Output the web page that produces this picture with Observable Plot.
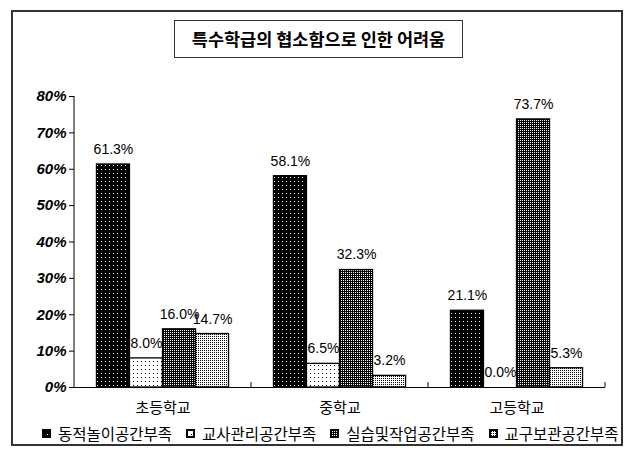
<!DOCTYPE html>
<html>
<head>
<meta charset="utf-8">
<script src="https://cdn.jsdelivr.net/npm/d3@7"></script>
<script src="https://cdn.jsdelivr.net/npm/@observablehq/plot@0.6"></script>
<style>
  html, body { margin: 0; padding: 0; background: #fff; }
  #wrap { position: relative; width: 630px; height: 462px; overflow: hidden; font-family: "Noto Sans CJK KR", sans-serif; }
  #border { position: absolute; left: 11px; top: 10px; width: 612px; height: 436px; border: 2px solid #333; box-sizing: border-box; }
  #chart { position: absolute; left: 0; top: 0; }
  #title { position: absolute; left: 174px; top: 20px; width: 289px; height: 38px; border: 1px solid #333; box-sizing: border-box;
           font: bold 17.5px "Noto Sans CJK KR", sans-serif; text-align: center; line-height: 36px; color: #000; white-space: nowrap; }
  #legend { position: absolute; left: 42px; top: 423px; display: flex; gap: 14px; font: 15.5px "Noto Sans CJK KR", sans-serif; color: #000; line-height: 20px; white-space: nowrap; }
  #legend .item { display: flex; align-items: center; gap: 7px; }
  #legend svg { display: block; }
</style>
</head>
<body>
<div id="wrap">
  <div id="border"></div>
  <div id="chart"></div>
  <div id="title"></div>
  <div id="legend"></div>
</div>
<script>
const chartTitle = "특수학급의 협소함으로 인한 어려움";
const categories = ["초등학교", "중학교", "고등학교"];
const series = ["동적놀이공간부족", "교사관리공간부족", "실습및작업공간부족", "교구보관공간부족"];
const elementaryValues = [61.3, 8.0, 16.0, 14.7];
const middleValues = [58.1, 6.5, 32.3, 3.2];
const highValues = [21.1, 0.0, 73.7, 5.3];
const yTicks = [0, 10, 20, 30, 40, 50, 60, 70, 80];

const valuesByCategory = [elementaryValues, middleValues, highValues];
const rows = categories.flatMap((c, i) => series.map((s, j) => ({category: c, series: s, value: valuesByCategory[i][j]})));
const patternIds = series.map((_, i) => "pat" + i);

const plot = Plot.plot({
  width: 630,
  height: 462,
  marginLeft: 74,
  marginRight: 25,
  marginTop: 96,
  marginBottom: 75,
  style: {background: "transparent", color: "#000", fontFamily: "'Liberation Sans', Arial, sans-serif"},
  fx: {domain: categories, padding: 0, label: null},
  x: {domain: series, paddingInner: 0, paddingOuter: 0.68, round: false, axis: null},
  y: {domain: [0, 80]},
  color: {type: "ordinal", domain: series, range: patternIds.map(id => `url(#${id})`)},
  marks: [
    Plot.barY(rows, {fx: "category", x: "series", y: "value", fill: "series", stroke: "#000", strokeWidth: 1.3}),
    Plot.ruleY([0], {stroke: "#000", strokeWidth: 1}),
    Plot.text(rows, {fx: "category", x: "series", y: "value", text: d => d.value.toFixed(1) + "%", dy: -15, fontSize: 14, fill: "#000"}),
    Plot.axisY({ticks: yTicks, tickFormat: d => d + "%", tickSize: 5, tickPadding: 3, fontSize: 15, fontWeight: "bold", fontStyle: "italic", label: null}),
    Plot.axisFx({anchor: "bottom", tickSize: 0, tickPadding: 15, fontSize: 15, label: null, fontFamily: "'Noto Sans CJK KR', sans-serif"})
  ]
});

document.getElementById("chart").appendChild(plot);

// patterns
const svg = d3.select(plot.tagName.toLowerCase() === "svg" ? plot : plot.querySelector("svg"));
const defs = svg.insert("defs", ":first-child");
const patSpecs = [
  {size: 4, bg: "#000", dot: "#fff"},
  {size: 4, bg: "#fff", dot: "#000"},
  {size: 2, bg: "#000", dot: "#fff"},
  {size: 2, bg: "#fff", dot: "#000"}
];
patSpecs.forEach((p, i) => {
  const pat = defs.append("pattern").attr("id", patternIds[i]).attr("patternUnits", "userSpaceOnUse")
    .attr("width", p.size).attr("height", p.size);
  pat.append("rect").attr("width", p.size).attr("height", p.size).attr("fill", p.bg);
  pat.append("rect").attr("x", p.size === 4 ? 1 : 0).attr("y", p.size === 4 ? 1 : 0).attr("width", 1).attr("height", 1).attr("fill", p.dot);
});

// y axis line and group separator ticks from the plot's scales
const fxS = plot.scale("fx");
const yS = plot.scale("y");
const x0 = fxS.apply(categories[0]);
svg.append("line").attr("x1", x0).attr("x2", x0).attr("y1", yS.apply(0)).attr("y2", yS.apply(80))
  .attr("stroke", "#000").attr("stroke-width", 1);
categories.forEach(c => {
  const xe = fxS.apply(c) + fxS.bandwidth;
  svg.append("line").attr("x1", xe).attr("x2", xe).attr("y1", yS.apply(0)).attr("y2", yS.apply(0) - 5)
    .attr("stroke", "#000").attr("stroke-width", 1);
});

document.getElementById("title").textContent = chartTitle;

const legend = d3.select("#legend");
series.forEach((s, i) => {
  const item = legend.append("div").attr("class", "item");
  const sw = item.append("svg").attr("width", 9).attr("height", 9);
  sw.append("rect").attr("x", 1).attr("y", 1).attr("width", 7).attr("height", 7)
    .attr("fill", `url(#${patternIds[i]})`).attr("stroke", "#000").attr("stroke-width", 2);
  item.append("span").text(s);
});
</script>
</body>
</html>
